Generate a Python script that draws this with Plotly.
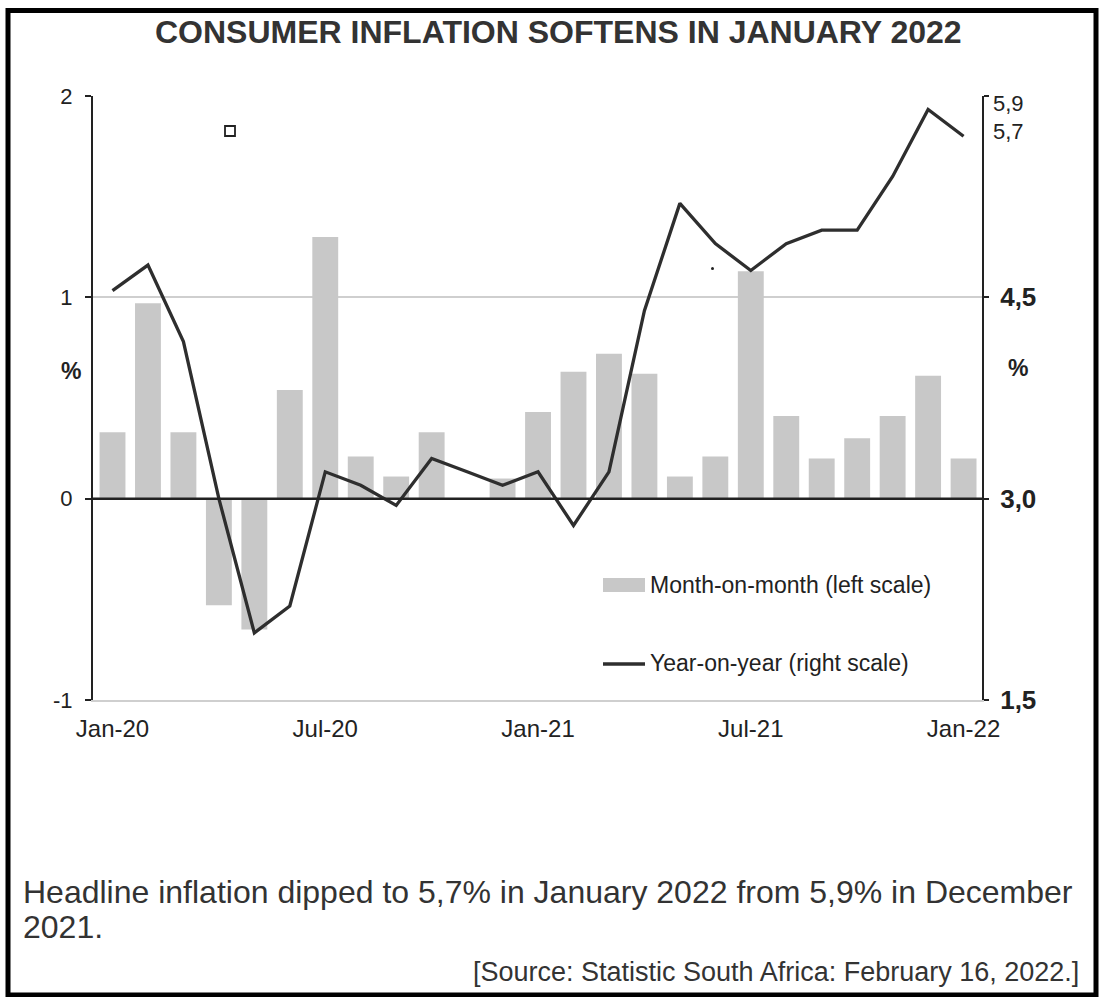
import plotly.graph_objects as go

# Monthly CPI, January 2020 to January 2022
months = [
    "Jan-20", "Feb-20", "Mar-20", "Apr-20", "May-20", "Jun-20", "Jul-20",
    "Aug-20", "Sep-20", "Oct-20", "Nov-20", "Dec-20", "Jan-21", "Feb-21",
    "Mar-21", "Apr-21", "May-21", "Jun-21", "Jul-21", "Aug-21", "Sep-21",
    "Oct-21", "Nov-21", "Dec-21", "Jan-22",
]
# Month-on-month change, % (left scale)
mom = [0.33, 0.97, 0.33, -0.53, -0.65, 0.54, 1.30, 0.21, 0.11, 0.33, 0.0,
       0.10, 0.43, 0.63, 0.72, 0.62, 0.11, 0.21, 1.13, 0.41, 0.20, 0.30,
       0.41, 0.61, 0.20]
# Year-on-year change, % (right scale)
yoy = [4.55, 4.74, 4.17, 3.0, 2.0, 2.2, 3.2, 3.1, 2.95, 3.3, 3.2, 3.1,
       3.2, 2.8, 3.2, 4.4, 5.2, 4.9, 4.7, 4.9, 5.0, 5.0, 5.4, 5.9, 5.7]

x_ticks = ["Jan-20", "Jul-20", "Jan-21", "Jul-21", "Jan-22"]
left_ticks = [-1, 0, 1, 2]
right_ticks = [1.5, 3.0, 4.5, 6.0]
right_tick_text = ["1,5", "3,0", "4,5", ""]

title = "CONSUMER INFLATION SOFTENS IN JANUARY 2022"
source = "[Source: Statistic South Africa: February 16, 2022.]"

W, H = 1099, 997
L, R, T, B = 93, 982, 96, 700  # plot area edges in pixels

BAR = "#c8c8c8"
LINE = "#2e2e2e"
INK = "#222222"
ARIAL = "Liberation Sans, Arial, sans-serif"


def px(x):
    return (x - L) / (R - L)


def py(y):
    return (B - y) / (B - T)


def comma(v):
    return f"{v:.1f}".replace(".", ",")


fig = go.Figure()
fig.add_trace(go.Bar(
    x=months, y=mom, marker=dict(color=BAR, line=dict(width=0)),
    name="Month-on-month (left scale)", yaxis="y",
))
fig.add_trace(go.Scatter(
    x=months, y=yoy, mode="lines", line=dict(color=LINE, width=3.3),
    name="Year-on-year (right scale)", yaxis="y2",
))

shapes = [
    # zero line of the left scale
    dict(type="line", xref="paper", yref="y", x0=0, x1=1, y0=0, y1=0,
         line=dict(color=INK, width=2.5), layer="above"),
    # legend keys
    dict(type="rect", xref="paper", yref="paper", x0=px(603), x1=px(645),
         y0=py(592), y1=py(578), fillcolor=BAR, line=dict(width=0)),
    dict(type="line", xref="paper", yref="paper", x0=px(603), x1=px(645),
         y0=py(664), y1=py(664), line=dict(color=LINE, width=3.3)),
    # small open square in the upper left of the plot
    dict(type="rect", xref="paper", yref="paper", x0=px(225), x1=px(235),
         y0=py(136), y1=py(126), fillcolor="white",
         line=dict(color=INK, width=1.8)),
    dict(type="circle", xref="paper", yref="paper", x0=px(711), x1=px(714),
         y0=py(270), y1=py(267), fillcolor=INK, line=dict(width=0)),
    # page frame
    dict(type="rect", xref="paper", yref="paper", x0=px(8), x1=px(1096),
         y0=py(995), y1=py(10.5), line=dict(color="black", width=5),
         fillcolor="rgba(0,0,0,0)"),
]

last, prev = yoy[-1], yoy[-2]
annotations = [
    dict(text=f"<b>{title}</b>", x=px(558), y=py(32), xref="paper",
         yref="paper", showarrow=False, xanchor="center", yanchor="middle",
         font=dict(family=ARIAL, size=32, color="#333333")),
    dict(text="<b>%</b>", x=px(71), y=py(371), xref="paper", yref="paper",
         showarrow=False, xanchor="center", yanchor="middle",
         font=dict(family=ARIAL, size=23, color=INK)),
    dict(text="<b>%</b>", x=px(1018), y=py(368), xref="paper", yref="paper",
         showarrow=False, xanchor="center", yanchor="middle",
         font=dict(family=ARIAL, size=23, color=INK)),
    dict(text="Month-on-month (left scale)", x=px(648), y=py(585),
         xref="paper", yref="paper", showarrow=False, xanchor="left",
         yanchor="middle", font=dict(family=ARIAL, size=23, color=INK)),
    dict(text="Year-on-year (right scale)", x=px(648), y=py(663),
         xref="paper", yref="paper", showarrow=False, xanchor="left",
         yanchor="middle", font=dict(family=ARIAL, size=23, color=INK)),
    # latest two readings labelled on the right scale
    dict(text=comma(prev), x=px(991), y=prev, xref="paper", yref="y2",
         yshift=6, showarrow=False, xanchor="left", yanchor="middle",
         font=dict(family=ARIAL, size=22, color=INK)),
    dict(text=comma(last), x=px(991), y=last, xref="paper", yref="y2",
         yshift=5, showarrow=False, xanchor="left", yanchor="middle",
         font=dict(family=ARIAL, size=22, color=INK)),
    dict(text=(f"Headline inflation dipped to {comma(last)}% in January 2022 "
               f"from {comma(prev)}% in December"),
         x=px(21), y=py(892), xref="paper", yref="paper", showarrow=False,
         xanchor="left", yanchor="middle",
         font=dict(family=ARIAL, size=32, color="#333333")),
    dict(text="2021.", x=px(21), y=py(927), xref="paper", yref="paper",
         showarrow=False, xanchor="left", yanchor="middle",
         font=dict(family=ARIAL, size=32, color="#333333")),
    dict(text=source, x=px(1081), y=py(972), xref="paper", yref="paper",
         showarrow=False, xanchor="right", yanchor="middle",
         font=dict(family=ARIAL, size=27, color="#333333")),
]

fig.update_layout(
    width=W, height=H, autosize=False,
    margin=dict(l=L, r=W - R, t=T, b=H - B, pad=0),
    paper_bgcolor="white", plot_bgcolor="white",
    showlegend=False, bargap=0.27,
    shapes=shapes, annotations=annotations,
    xaxis=dict(
        type="category", range=[-0.55, 24.52], tickvals=x_ticks,
        ticktext=x_ticks, ticks="", showgrid=False, zeroline=False,
        showline=True, linecolor="#cfcfcf", linewidth=2,
        tickfont=dict(family=ARIAL, size=24, color=INK),
        ticklabelstandoff=6,
    ),
    yaxis=dict(
        range=[-1, 2], tickvals=left_ticks,
        ticktext=[str(v) for v in left_ticks],
        showgrid=True, gridcolor="#cfcfcf", gridwidth=2, zeroline=False,
        showline=True, linecolor=INK, linewidth=2,
        ticks="outside", ticklen=6, tickcolor=INK, tickwidth=2,
        ticklabelstandoff=8,
        tickfont=dict(family=ARIAL, size=22, color=INK),
    ),
    yaxis2=dict(
        range=[1.5, 6.0], overlaying="y", side="right",
        tickvals=right_ticks, ticktext=[f"<b>{t}</b>" for t in right_tick_text],
        showgrid=False, zeroline=False,
        showline=True, linecolor=INK, linewidth=2,
        ticks="outside", ticklen=5, tickcolor=INK, tickwidth=2,
        ticklabelstandoff=6,
        tickfont=dict(family=ARIAL, size=26, color=INK),
    ),
)

fig.write_html("out.html")
